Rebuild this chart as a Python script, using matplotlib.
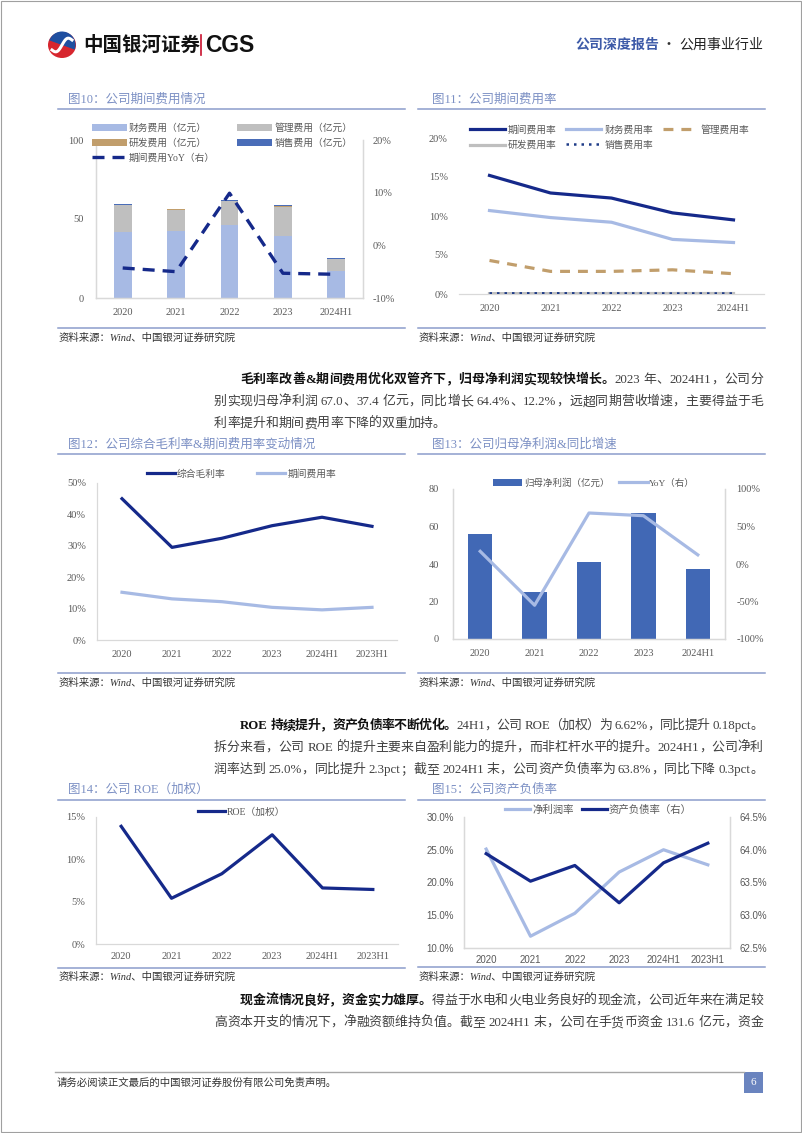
import matplotlib
matplotlib.use('Agg')
import matplotlib.pyplot as plt
from matplotlib.patches import Rectangle, Wedge, Patch, Ellipse
from matplotlib.lines import Line2D
from matplotlib.font_manager import FontProperties
from matplotlib.ticker import FuncFormatter
import numpy as np

# ---------------- data ----------------
years5 = ['2020', '2021', '2022', '2023', '2024H1']
years6 = ['2020', '2021', '2022', '2023', '2024H1', '2023H1']

# 图10 公司期间费用情况（亿元）
fin_exp = [41.7, 42.4, 46.0, 39.2, 17.4]
mgmt_exp = [17.0, 13.5, 15.2, 18.5, 7.3]
rd_exp = [0.3, 0.2, 0.3, 0.8, 0.3]
sales_exp = [0.4, 0.5, 0.4, 0.3, 0.3]
exp_yoy = [-4.3, -5.0, 9.9, -5.3, -5.5]          # %

# 图11 公司期间费用率（%）
period_rate = [15.2, 12.95, 12.3, 10.4, 9.5]
fin_rate = [10.7, 9.8, 9.2, 7.0, 6.6]
mgmt_rate = [4.3, 2.9, 2.9, 3.1, 2.6]
rd_rate = [0.05, 0.05, 0.06, 0.06, 0.06]
sales_rate = [0.08, 0.09, 0.08, 0.06, 0.07]

# 图12 综合毛利率 & 期间费用率（%）
gross_margin = [45.0, 29.5, 32.4, 36.4, 39.1, 36.2]
period_rate6 = [15.2, 13.1, 12.2, 10.4, 9.6, 10.4]

# 图13 归母净利润（亿元）& YoY（%）
net_profit = [56.0, 25.0, 41.3, 67.0, 37.4]
profit_yoy = [16.9, -55.0, 68.0, 64.4, 12.2]

# 图14 ROE（加权，%）
roe = [13.9, 5.4, 8.3, 12.9, 6.62, 6.44]

# 图15 净利润率 & 资产负债率（%）
net_margin = [25.1, 11.8, 15.3, 21.6, 25.0, 22.7]
debt_ratio = [63.94, 63.52, 63.76, 63.19, 63.80, 64.10]

# ---------------- style ----------------
SERIF = ['Liberation Serif', 'Noto Sans CJK SC']
SANS = ['Liberation Sans', 'Noto Sans CJK SC']
CJK = ['Noto Sans CJK SC', 'DejaVu Sans']
plt.rcParams['font.family'] = SERIF
plt.rcParams['axes.unicode_minus'] = False

NAVY = '#15298A'
LBLUE = '#A7BAE4'
GRAY = '#BFBFBF'
TAN = '#C19E6C'
MBLUE = '#4168B5'
SALES = '#4A6DB8'
TITLE_C = '#7C90C4'
RULE_C = '#8C9DCB'
TICK_C = '#595959'
SPINE_C = '#D9D9D9'
TEXT_C = '#404040'

W, H = 802, 1133
fig = plt.figure(figsize=(W / 100, H / 100), dpi=100)
fig.patch.set_facecolor('white')


def box(x0, y0, x1, y1):
    return [x0 / W, 1 - y1 / H, (x1 - x0) / W, (y1 - y0) / H]


def style(ax, left=True, right=False, fam=SERIF, size=7.5, xpad=7, ypad=7):
    ax.set_facecolor('none')
    ax.spines['top'].set_visible(False)
    ax.spines['left'].set_visible(left)
    ax.spines['right'].set_visible(right)
    for s in ax.spines.values():
        s.set_color(SPINE_C)
        s.set_linewidth(0.9)
    ax.tick_params(axis='both', length=0, colors=TICK_C, labelsize=size, labelfontfamily=fam)
    ax.tick_params(axis='x', pad=xpad)
    ax.tick_params(axis='y', pad=ypad)


def legend(ax, handles, labels, x, y, ncol, fs=7, fam=SERIF, hl=3.4, htp=0.2, cs=2.0, ls=0.5):
    lg = ax.legend(handles, labels, loc='upper left', bbox_to_anchor=(x / W, 1 - y / H),
                   bbox_transform=fig.transFigure, ncol=ncol, frameon=False,
                   borderpad=0, borderaxespad=0, handlelength=hl, handletextpad=htp,
                   columnspacing=cs, labelspacing=ls,
                   prop=FontProperties(family=fam, size=fs))
    for t in lg.get_texts():
        t.set_color(TICK_C)
    return lg


pct0 = FuncFormatter(lambda v, p: '%d%%' % round(v))
pct1 = FuncFormatter(lambda v, p: '%.1f%%' % v)

# ---------------- chart 1: 图10 ----------------
x5 = np.arange(len(years5))
ax1 = fig.add_axes(box(96, 140, 363, 298))
b0 = np.zeros(5)
bw = 0.33
ax1.bar(x5, fin_exp, bw, bottom=b0, color=LBLUE, zorder=2)
b1 = b0 + np.array(fin_exp)
ax1.bar(x5, mgmt_exp, bw, bottom=b1, color=GRAY, zorder=2)
b2 = b1 + np.array(mgmt_exp)
ax1.bar(x5, rd_exp, bw, bottom=b2, color=TAN, zorder=2)
b3 = b2 + np.array(rd_exp)
ax1.bar(x5, sales_exp, bw, bottom=b3, color=SALES, zorder=2)
ax1.set_xlim(-0.5, 4.5)
ax1.set_ylim(0, 100)
ax1.set_yticks([0, 50, 100])
ax1.set_xticks(x5)
ax1.set_xticklabels(years5)
style(ax1, left=True, right=True, xpad=7, ypad=9)
ax1r = ax1.twinx()
ax1r.plot(x5, exp_yoy, color=NAVY, lw=2.4, dashes=(3.6, 2.4), zorder=3)
ax1r.set_ylim(-10, 20)
ax1r.set_yticks([-10, 0, 10, 20])
ax1r.yaxis.set_major_formatter(pct0)
style(ax1r, left=True, right=True, ypad=7)
h1 = [Patch(fc=LBLUE), Patch(fc=TAN), Line2D([], [], color=NAVY, lw=2.4, dashes=(3.6, 2.4)),
      Patch(fc=GRAY), Patch(fc=SALES)]
l1 = ['财务费用（亿元）', '研发费用（亿元）', '期间费用YoY（右）', '管理费用（亿元）', '销售费用（亿元）']
legend(ax1r, h1, l1, 92, 123, 2, fs=7, hl=3.6, htp=0.2, cs=2.3, ls=0.55)

# ---------------- chart 2: 图11 ----------------
ax2 = fig.add_axes(box(459, 138, 764, 294))
pr = [v / 100 for v in period_rate]
ax2.plot(x5, period_rate, color=NAVY, lw=2.3, zorder=5)
ax2.plot(x5, fin_rate, color=LBLUE, lw=2.3, zorder=4)
ax2.plot(x5, mgmt_rate, color=TAN, lw=2.3, dashes=(3.1, 2.5), zorder=4)
ax2.plot(x5, rd_rate, color=GRAY, lw=2.3, zorder=3)
ax2.plot(x5, sales_rate, color='#1F3C88', lw=1.8, dashes=(1, 2), zorder=5)
ax2.set_xlim(-0.5, 4.5)
ax2.set_ylim(0, 20)
ax2.set_yticks([0, 5, 10, 15, 20])
ax2.yaxis.set_major_formatter(pct0)
ax2.set_xticks(x5)
ax2.set_xticklabels(years5)
style(ax2, left=False, xpad=7, ypad=8)
h2 = [Line2D([], [], color=NAVY, lw=2.3), Line2D([], [], color=GRAY, lw=2.3),
      Line2D([], [], color=LBLUE, lw=2.3), Line2D([], [], color='#1F3C88', lw=1.8, dashes=(1, 2)),
      Line2D([], [], color=TAN, lw=2.3, dashes=(3.1, 2.5))]
l2 = ['期间费用率', '研发费用率', '财务费用率', '销售费用率', '管理费用率']
legend(ax2, h2, l2, 470, 125, 3, fs=7, hl=3.6, htp=0.3, cs=1.0, ls=0.6)

# ---------------- chart 3: 图12 ----------------
x6 = np.arange(len(years6))
ax3 = fig.add_axes(box(97, 483, 397, 640))
ax3.plot(x6, gross_margin, color=NAVY, lw=2.3)
ax3.plot(x6, period_rate6, color=LBLUE, lw=2.3)
ax3.set_xlim(-0.5, 5.5)
ax3.set_ylim(0, 50)
ax3.set_yticks(range(0, 51, 10))
ax3.yaxis.set_major_formatter(pct0)
ax3.set_xticks(x6)
ax3.set_xticklabels(years6)
style(ax3, left=True, xpad=7, ypad=8)
legend(ax3, [Line2D([], [], color=NAVY, lw=2.3), Line2D([], [], color=LBLUE, lw=2.3)],
       ['综合毛利率', '期间费用率'], 147, 469, 2, fs=7, hl=2.9, htp=0.2, cs=3.2)

# ---------------- chart 4: 图13 ----------------
ax4 = fig.add_axes(box(453, 489, 725, 639))
ax4.bar(x5, net_profit, 0.45, color=MBLUE, zorder=2)
ax4.set_xlim(-0.5, 4.5)
ax4.set_ylim(0, 80)
ax4.set_yticks(range(0, 81, 20))
ax4.set_xticks(x5)
ax4.set_xticklabels(years5)
style(ax4, left=True, right=True, xpad=7, ypad=10)
ax4r = ax4.twinx()
ax4r.plot(x5, profit_yoy, color=LBLUE, lw=2.3, zorder=3)
ax4r.set_ylim(-100, 100)
ax4r.set_yticks([-100, -50, 0, 50, 100])
ax4r.yaxis.set_major_formatter(pct0)
style(ax4r, left=True, right=True, ypad=8)
legend(ax4r, [Patch(fc=MBLUE), Line2D([], [], color=LBLUE, lw=2.3)],
       ['归母净利润（亿元）', 'YoY（右）'], 493, 478, 2, fs=6.8, hl=3.1, htp=0.15, cs=1.0)

# ---------------- chart 5: 图14 ----------------
ax5 = fig.add_axes(box(96, 817, 398, 944))
ax5.plot(x6, roe, color=NAVY, lw=2.3)
ax5.set_xlim(-0.5, 5.5)
ax5.set_ylim(0, 15)
ax5.set_yticks([0, 5, 10, 15])
ax5.yaxis.set_major_formatter(pct0)
ax5.set_xticks(x6)
ax5.set_xticklabels(years6)
style(ax5, left=True, xpad=6, ypad=8)
legend(ax5, [Line2D([], [], color=NAVY, lw=2.3)], ['ROE（加权）'], 198, 807, 1,
       fs=7, hl=2.8, htp=0.2)

# ---------------- chart 6: 图15 ----------------
ax6 = fig.add_axes(box(464, 817, 730, 948))
ax6.plot(x6, net_margin, color=LBLUE, lw=2.3, zorder=2)
ax6.set_xlim(-0.5, 5.5)
ax6.set_ylim(10, 30)
ax6.set_yticks([10, 15, 20, 25, 30])
ax6.yaxis.set_major_formatter(pct1)
ax6.set_xticks(x6)
ax6.set_xticklabels(years6)
style(ax6, left=True, right=True, fam=SANS, size=7, xpad=5, ypad=7)
ax6r = ax6.twinx()
ax6r.plot(x6, debt_ratio, color=NAVY, lw=2.3, zorder=3)
ax6r.set_ylim(62.5, 64.5)
ax6r.set_yticks([62.5, 63.0, 63.5, 64.0, 64.5])
ax6r.yaxis.set_major_formatter(pct1)
style(ax6r, left=True, right=True, fam=SANS, size=7, ypad=7)
legend(ax6r, [Line2D([], [], color=LBLUE, lw=2.3), Line2D([], [], color=NAVY, lw=2.3)],
       ['净利润率', '资产负债率（右）'], 505, 805, 2, fs=7.5, fam=SANS, hl=2.4, htp=0.2, cs=0.8)

# ---------------- overlay (page decorations and text) ----------------
ov = fig.add_axes([0, 0, 1, 1], zorder=10)
ov.set_xlim(0, W)
ov.set_ylim(H, 0)
ov.axis('off')
renderer = fig.canvas.get_renderer()

# page border
ov.add_patch(Rectangle((0.5, 0.5), W - 1.5, H - 1.5, fill=False, ec='#A0A0A0', lw=0.8))

# header logo
ov.add_patch(Ellipse((62, 45), 28, 26, fc='#D7262E', ec='none'))
ov.add_patch(Wedge((62, 45), 13.5, 200, 20, fc='#1F4FA0', ec='none'))
tt = np.linspace(0, 1, 30)
ov.plot(52 + 20 * tt, 50 - 10 * tt + 4 * np.sin(tt * 2 * np.pi), color='white', lw=2.2)
ov.text(83, 45, '中国银河证券', fontsize=14, fontweight='bold', family=CJK, color='#111111',
        va='center', ha='left')
ov.plot([201, 201], [35, 55], color='#C8102E', lw=1.2)
ov.text(205, 45.5, 'CGS', fontsize=16.5, fontweight='bold', family=['Liberation Sans', 'DejaVu Sans'],
        color='#111111', va='center', ha='left')


def runs_line(x0, y, runs, x1=None, fs=9.3, fam=SERIF):
    toks = []
    for txt, bold, col in runs:
        buf = ''
        for ch in txt:
            if ch == ' ':
                if buf:
                    toks.append((buf, bold, col)); buf = ''
                toks.append((' ', bold, col))
            elif ord(ch) < 0x2000:
                buf += ch
            else:
                if buf:
                    toks.append((buf, bold, col)); buf = ''
                toks.append((ch, bold, col))
        if buf:
            toks.append((buf, bold, col))
    objs, widths = [], []
    for t, b, c in toks:
        if t == ' ':
            objs.append(None)
            widths.append(fs * 100 / 72 * 0.27)
            continue
        o = ov.text(0, y, t, fontsize=fs, fontweight='bold' if b else 'normal', color=c,
                    va='center', ha='left', family=fam)
        objs.append(o)
        widths.append(o.get_window_extent(renderer).width)
    total = sum(widths)
    gaps = len(toks) - 1
    extra = (x1 - x0 - total) / gaps if (x1 is not None and gaps > 0) else 0
    x = x0
    for o, w in zip(objs, widths):
        if o is not None:
            o.set_x(x)
        x += w + extra


runs_line(575, 45, [('公司深度报告', True, '#3D5AA8'), (' · ', False, '#333333'),
                    ('公用事业行业', False, '#222222')], x1=762, fs=10, fam=CJK)


def frame(x0, x1, tx, title, ty, ry, by, sy):
    ov.text(tx, ty, title, fontsize=9, color=TITLE_C, va='center', ha='left', family=SERIF)
    ov.plot([x0, x1], [ry, ry], color=RULE_C, lw=1.1)
    ov.plot([x0, x1], [by, by], color=RULE_C, lw=1.1)
    ov.text(x0 + 1, sy, '资料来源：Wind、中国银河证券研究院', fontsize=7.5, style='italic',
            color='#333333', va='center', ha='left', family=SERIF)


frame(58, 405, 68, '图10：公司期间费用情况', 100, 109, 328, 338)
frame(418, 765, 432, '图11：公司期间费用率', 100, 109, 328, 338)
frame(58, 405, 68, '图12：公司综合毛利率&期间费用率变动情况', 445, 454, 673, 683)
frame(418, 765, 432, '图13：公司归母净利润&同比增速', 445, 454, 673, 683)
frame(58, 405, 68, '图14：公司 ROE（加权）', 790, 800, 968, 977)
frame(418, 765, 432, '图15：公司资产负债率', 790, 800, 967, 977)

# body paragraphs
BOLD_C = '#111111'
XR = 763
runs_line(240, 380, [('毛利率改善&期间费用优化双管齐下，归母净利润实现较快增长。', True, BOLD_C),
                     ('2023 年、2024H1，公司分', False, TEXT_C)], x1=XR)
runs_line(214, 402, [('别实现归母净利润 67.0、37.4 亿元，同比增长 64.4%、12.2%，远超同期营收增速，主要得益于毛', False, TEXT_C)], x1=XR)
runs_line(214, 424, [('利率提升和期间费用率下降的双重加持。', False, TEXT_C)])

runs_line(240, 726, [('ROE 持续提升，资产负债率不断优化。', True, BOLD_C),
                     ('24H1，公司 ROE（加权）为 6.62%，同比提升 0.18pct。', False, TEXT_C)], x1=XR)
runs_line(214, 748, [('拆分来看，公司 ROE 的提升主要来自盈利能力的提升，而非杠杆水平的提升。2024H1，公司净利', False, TEXT_C)], x1=XR)
runs_line(214, 770, [('润率达到 25.0%，同比提升 2.3pct；截至 2024H1 末，公司资产负债率为 63.8%，同比下降 0.3pct。', False, TEXT_C)], x1=XR)

runs_line(240, 1001, [('现金流情况良好，资金实力雄厚。', True, BOLD_C),
                      ('得益于水电和火电业务良好的现金流，公司近年来在满足较', False, TEXT_C)], x1=XR)
runs_line(214, 1023, [('高资本开支的情况下，净融资额维持负值。截至 2024H1 末，公司在手货币资金 131.6 亿元，资金', False, TEXT_C)], x1=XR)

# footer
ov.plot([55, 744], [1072, 1072], color='#A6A6A6', lw=1.0)
ov.text(57, 1083, '请务必阅读正文最后的中国银河证券股份有限公司免责声明。', fontsize=7.5,
        color='#333333', va='center', ha='left', family=SERIF)
ov.add_patch(Rectangle((744, 1072), 19, 21, fc='#6A84BF', ec='none'))
ov.text(753.5, 1082.5, '6', fontsize=8, color='white', va='center', ha='center', family=SERIF)

fig.savefig('out.png', dpi=100, facecolor='white')
